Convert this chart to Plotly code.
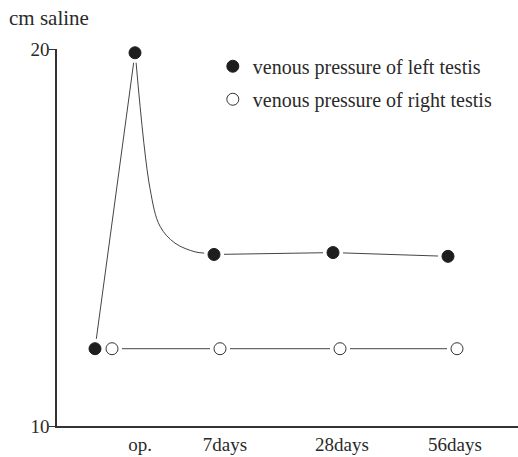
import math
import plotly.graph_objects as go

# ---- data ----
tick_labels = ["op.", "7days", "28days", "56days"]
tick_pos = [0.83, 1.68, 2.85, 3.98]           # label positions on the time axis

left_x = [0.38, 0.78, 1.57, 2.76, 3.91]        # pre-op, op., 7days, 28days, 56days
left_y = [12.05, 19.9, 14.55, 14.6, 14.5]

right_x = [0.55, 1.63, 2.83, 4.00]             # pre-op, 7days, 28days, 56days
right_y = [12.05, 12.05, 12.05, 12.05]

# hand-drawn decay curve between op. and 7days
curve_x = [0.78, 0.93, 1.03, 1.18, 1.38, 1.57]
curve_y = [19.9, 16.3, 15.3, 14.85, 14.62, 14.55]

X_RANGE = [0, 4.61]
Y_RANGE = [10, 20]

W, H = 518, 457
M = dict(l=57, r=0, t=49, b=31)
GAP = 10  # px gap between line ends and marker centres

FONT = "Liberation Serif"
LINE = "#444444"
TXT = "#2a2a2a"

# pixel scale of the axes (to keep the drawn gaps a constant size)
SX = (W - M["l"] - M["r"]) / (X_RANGE[1] - X_RANGE[0])
SY = (H - M["t"] - M["b"]) / (Y_RANGE[1] - Y_RANGE[0])


def trim(x0, y0, x1, y1, g0, g1):
    dx, dy = (x1 - x0) * SX, (y1 - y0) * SY
    L = math.hypot(dx, dy)
    ux, uy = dx / L, dy / L
    return ([x0 + ux * g0 / SX, x1 - ux * g1 / SX],
            [y0 + uy * g0 / SY, y1 - uy * g1 / SY])


def gapped_segments(xs, ys):
    """Join consecutive marker points with segments that stop short of each marker."""
    ox, oy = [], []
    for i in range(len(xs) - 1):
        sx, sy = trim(xs[i], ys[i], xs[i + 1], ys[i + 1], GAP, GAP)
        ox += sx + [None]
        oy += sy + [None]
    return ox, oy


def gapped_curve(xs, ys):
    xs, ys = list(xs), list(ys)
    a, b = trim(xs[0], ys[0], xs[1], ys[1], GAP, 0)
    xs[0], ys[0] = a[0], b[0]
    a, b = trim(xs[-2], ys[-2], xs[-1], ys[-1], 0, GAP)
    xs[-1], ys[-1] = a[1], b[1]
    return xs, ys


fig = go.Figure()


def line_trace(x, y, shape="linear"):
    return go.Scatter(x=x, y=y, mode="lines", connectgaps=False,
                      line=dict(color=LINE, width=1, shape=shape, smoothing=1.0),
                      showlegend=False, hoverinfo="skip")


lx, ly = gapped_segments(left_x[:2], left_y[:2])
fig.add_trace(line_trace(lx, ly))
cx, cy = gapped_curve(curve_x, curve_y)
fig.add_trace(line_trace(cx, cy, "spline"))
lx, ly = gapped_segments(left_x[2:], left_y[2:])
fig.add_trace(line_trace(lx, ly))
rx, ry = gapped_segments(right_x, right_y)
fig.add_trace(line_trace(rx, ry))

# markers
fig.add_trace(go.Scatter(x=left_x, y=left_y, mode="markers", cliponaxis=False,
                         marker=dict(color="#1e1e1e", size=12, symbol="circle",
                                     line=dict(color="#1e1e1e", width=1)),
                         name="venous pressure of left testis", legendgroup="a"))
fig.add_trace(go.Scatter(x=right_x, y=right_y, mode="markers", cliponaxis=False,
                         marker=dict(color="white", size=12, symbol="circle",
                                     line=dict(color="#333333", width=1)),
                         name="venous pressure of right testis", legendgroup="b"))

fig.update_layout(
    width=W, height=H,
    margin=M,
    paper_bgcolor="white", plot_bgcolor="white",
    font=dict(family=FONT, size=19, color=TXT),
    showlegend=True,
    legend=dict(x=0.338, y=1.006, xanchor="left", yanchor="top",
                bgcolor="rgba(0,0,0,0)", tracegroupgap=4,
                font=dict(family=FONT, size=20, color=TXT)),
    xaxis=dict(range=X_RANGE, showgrid=False, zeroline=False,
               showline=True, linecolor="#333333", linewidth=1.5,
               tickvals=tick_pos, ticktext=tick_labels, ticks="",
               tickfont=dict(family=FONT, size=19, color=TXT)),
    yaxis=dict(range=Y_RANGE, showgrid=False, zeroline=False,
               showline=True, linecolor="#333333", linewidth=1.5,
               tickvals=[10, 20], ticks="outside", ticklen=6, tickcolor="#333333",
               ticklabelstandoff=-4,
               tickfont=dict(family=FONT, size=19, color=TXT)),
    annotations=[dict(text="cm saline", xref="paper", yref="paper",
                      x=-0.108, y=1.083, xanchor="left", yanchor="middle",
                      showarrow=False, font=dict(family=FONT, size=21, color=TXT))],
)

fig.write_html("out.html")
